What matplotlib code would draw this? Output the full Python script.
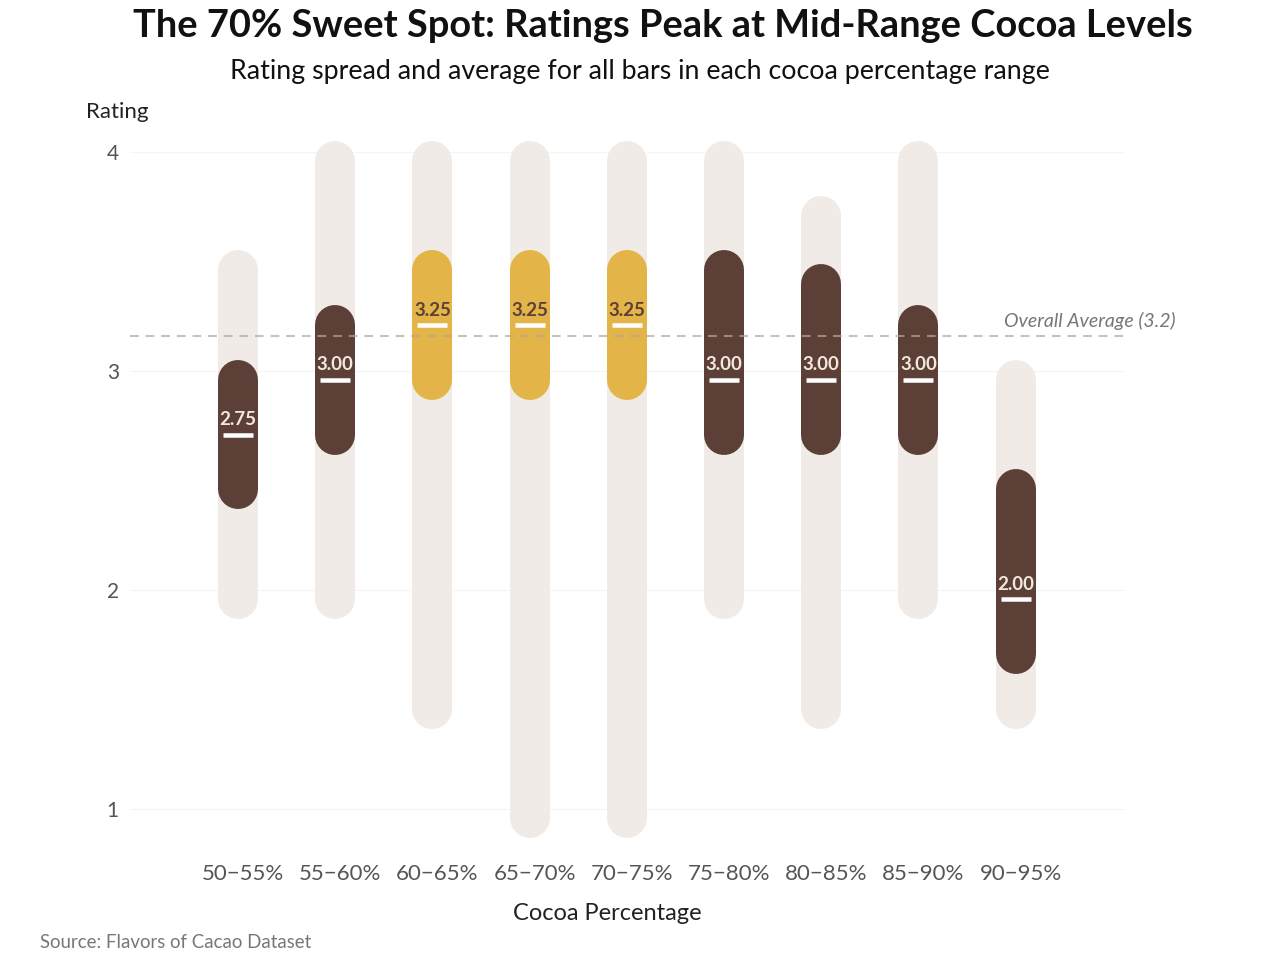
import matplotlib
matplotlib.use("Agg")
import matplotlib.pyplot as plt
import matplotlib.transforms as mtransforms
from matplotlib import font_manager

# ---- data ----
categories = ["50−55%", "55−60%", "60−65%", "65−70%", "70−75%",
              "75−80%", "80−85%", "85−90%", "90−95%"]
rating_min = [2.0, 2.0, 1.5, 1.0, 1.0, 2.0, 1.5, 2.0, 1.5]
rating_max = [3.5, 4.0, 4.0, 4.0, 4.0, 4.0, 3.75, 4.0, 3.0]
rating_q1 = [2.5, 2.75, 3.0, 3.0, 3.0, 2.75, 2.75, 2.75, 1.75]
rating_q3 = [3.0, 3.25, 3.5, 3.5, 3.5, 3.5, 3.44, 3.25, 2.5]
rating_median = [2.75, 3.0, 3.25, 3.25, 3.25, 3.0, 3.0, 3.0, 2.0]
highlight = [False, False, True, True, True, False, False, False, False]
overall_avg = 3.2
y_ticks = [1, 2, 3, 4]

# ---- fonts ----
avail = {f.name for f in font_manager.fontManager.ttflist}
FONT = "Lato" if "Lato" in avail else "DejaVu Sans"
plt.rcParams["font.family"] = [FONT, "DejaVu Sans"]

LIGHT = "#f0ebe6"
DARK = "#5c4037"
GOLD = "#e3b448"
CREAM = "#f2e8dc"

W, H = 1280, 960
fig = plt.figure(figsize=(12.8, 9.6), dpi=100)
L, R, T, B = 130, 1125, 130, 850
ax = fig.add_axes([L / W, 1 - B / H, (R - L) / W, (B - T) / H])

px_x = 97.2   # pixels per category
px_y = 219.0  # pixels per rating unit
ax.set_xlim(-(238 - L) / px_x, (R - 238) / px_x)
ax.set_ylim(3 - (B - 380) / px_y, 3 + (380 - T) / px_y)

for s in ax.spines.values():
    s.set_visible(False)

xs = list(range(len(categories)))
BAR_LW = 40 * 72 / 100  # 40 px

offy = mtransforms.ScaledTranslation(0, 9 / 100, fig.dpi_scale_trans)

# faint grid (aligned with tick labels)
for yt in y_ticks:
    ln = ax.axhline(yt, color="#f7f4f1", lw=0.8, zorder=0)
    ln.set_transform(ln.get_transform() + offy)

for i in xs:
    ax.plot([i, i], [rating_min[i], rating_max[i]], color=LIGHT, lw=BAR_LW,
            solid_capstyle="round", zorder=1)
for i in xs:
    c = GOLD if highlight[i] else DARK
    ax.plot([i, i], [rating_q1[i], rating_q3[i]], color=c, lw=BAR_LW,
            solid_capstyle="round", zorder=2)

# overall average line
ax.plot([ax.get_xlim()[0], ax.get_xlim()[1]], [overall_avg, overall_avg],
        color="#b5a797", lw=1.5, dashes=(4.2, 3.3), alpha=0.7, zorder=3,
        clip_on=False)
ax.annotate(f"Overall Average ({overall_avg})", xy=(1.0, overall_avg),
            xycoords=("axes fraction", "data"), xytext=(50, 15),
            textcoords="offset pixels", ha="right", va="center",
            fontsize=14, style="italic", color="#777777", annotation_clip=False)

# medians
for i in xs:
    ax.plot([i], [rating_median[i]], marker="_", markersize=30 * 0.72,
            markeredgewidth=4.5 * 0.72, color="white", zorder=4)
    tc = DARK if highlight[i] else CREAM
    ax.annotate(f"{rating_median[i]:.2f}", xy=(i, rating_median[i]),
                xytext=(0, 15), textcoords="offset pixels", ha="center",
                va="center", fontsize=13.5, fontweight="bold", color=tc, zorder=5)

# ticks
ax.set_xticks(xs)
ax.set_xticklabels(categories, fontsize=16, color="#555555")
ax.set_yticks(y_ticks)
ax.set_yticklabels([str(t) for t in y_ticks], fontsize=15, color="#555555")
ax.tick_params(axis="both", length=0)
ax.tick_params(axis="x", pad=10)
ax.tick_params(axis="y", pad=8)
for lab in ax.get_yticklabels():
    lab.set_transform(lab.get_transform() + offy)
offx = mtransforms.ScaledTranslation(5 / 100, 0, fig.dpi_scale_trans)
for lab in ax.get_xticklabels():
    lab.set_transform(lab.get_transform() + offx)

# texts
fig.text(663 / W, 1 - 26 / H, "The 70% Sweet Spot: Ratings Peak at Mid-Range Cocoa Levels",
         ha="center", va="center", fontsize=27.4, fontweight="bold", color="#111111")
fig.text(640 / W, 1 - 72 / H, "Rating spread and average for all bars in each cocoa percentage range",
         ha="center", va="center", fontsize=19.3, color="#111111")
fig.text(117 / W, 1 - 112 / H, "Rating", ha="center", va="center", fontsize=16, color="#222222")
fig.text(607 / W, 1 - 914 / H, "Cocoa Percentage", ha="center", va="center",
         fontsize=17, color="#222222")
fig.text(40 / W, 1 - 943 / H, "Source: Flavors of Cacao Dataset", ha="left", va="center",
         fontsize=13.4, color="#777777")

fig.savefig("out.png", dpi=100, facecolor="white")
